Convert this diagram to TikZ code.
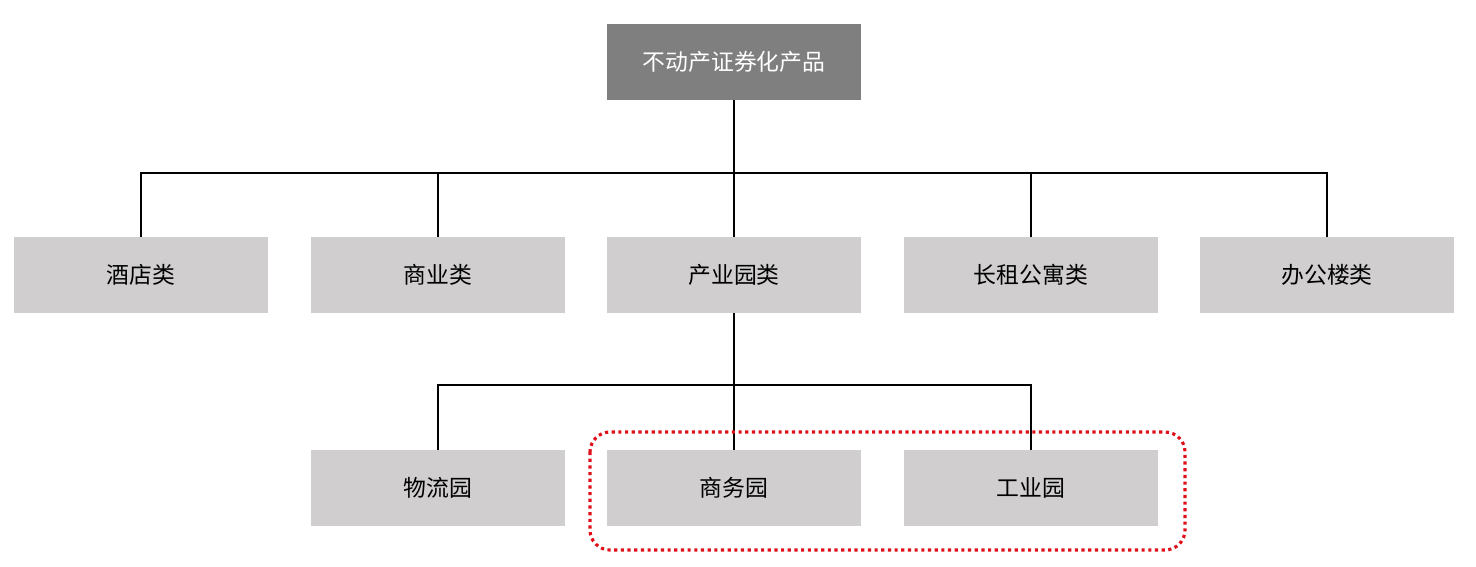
\documentclass[tikz,border=0pt]{standalone}
\usepackage{fontspec}
\newfontfamily\cjk{Noto Sans CJK SC}
\definecolor{topgray}{HTML}{7F7F7F}
\definecolor{boxgray}{HTML}{D0CECE}
\definecolor{redline}{HTML}{E0101A}
\begin{document}
\begin{tikzpicture}[x=0.02cm,y=-0.02cm,
  box/.style={fill=boxgray,minimum width=5.08cm,minimum height=1.52cm,inner sep=0pt,font=\cjk\fontsize{13}{15}\selectfont},
  topbox/.style={box,fill=topgray,text=white},
  conn/.style={draw=black,line width=0.6pt}]
\useasboundingbox (0,0) rectangle (1476,566);
\node[topbox] (root) at (734,62) {不动产证券化产品};
\node[box] (a) at (141,275) {酒店类};
\node[box] (b) at (438,275) {商业类};
\node[box] (c) at (734,275) {产业园类};
\node[box] (d) at (1031,275) {长租公寓类};
\node[box] (e) at (1327,275) {办公楼类};
\node[box] (f) at (438,488) {物流园};
\node[box] (g) at (734,488) {商务园};
\node[box] (h) at (1031,488) {工业园};
\coordinate (j1) at (734,173);
\coordinate (j2) at (734,385);
\draw[conn] (root.south) -- (c.north);
\draw[conn] (a.north) |- (j1) -| (e.north);
\draw[conn] (b.north) -- (b.north |- j1);
\draw[conn] (d.north) -- (d.north |- j1);
\draw[conn] (c.south) -- (g.north);
\draw[conn] (f.north) |- (j2) -| (h.north);
\draw[redline,line width=1.8pt,dotted,rounded corners=0.4cm] (590,432) rectangle (1185,550);
\end{tikzpicture}
\end{document}
